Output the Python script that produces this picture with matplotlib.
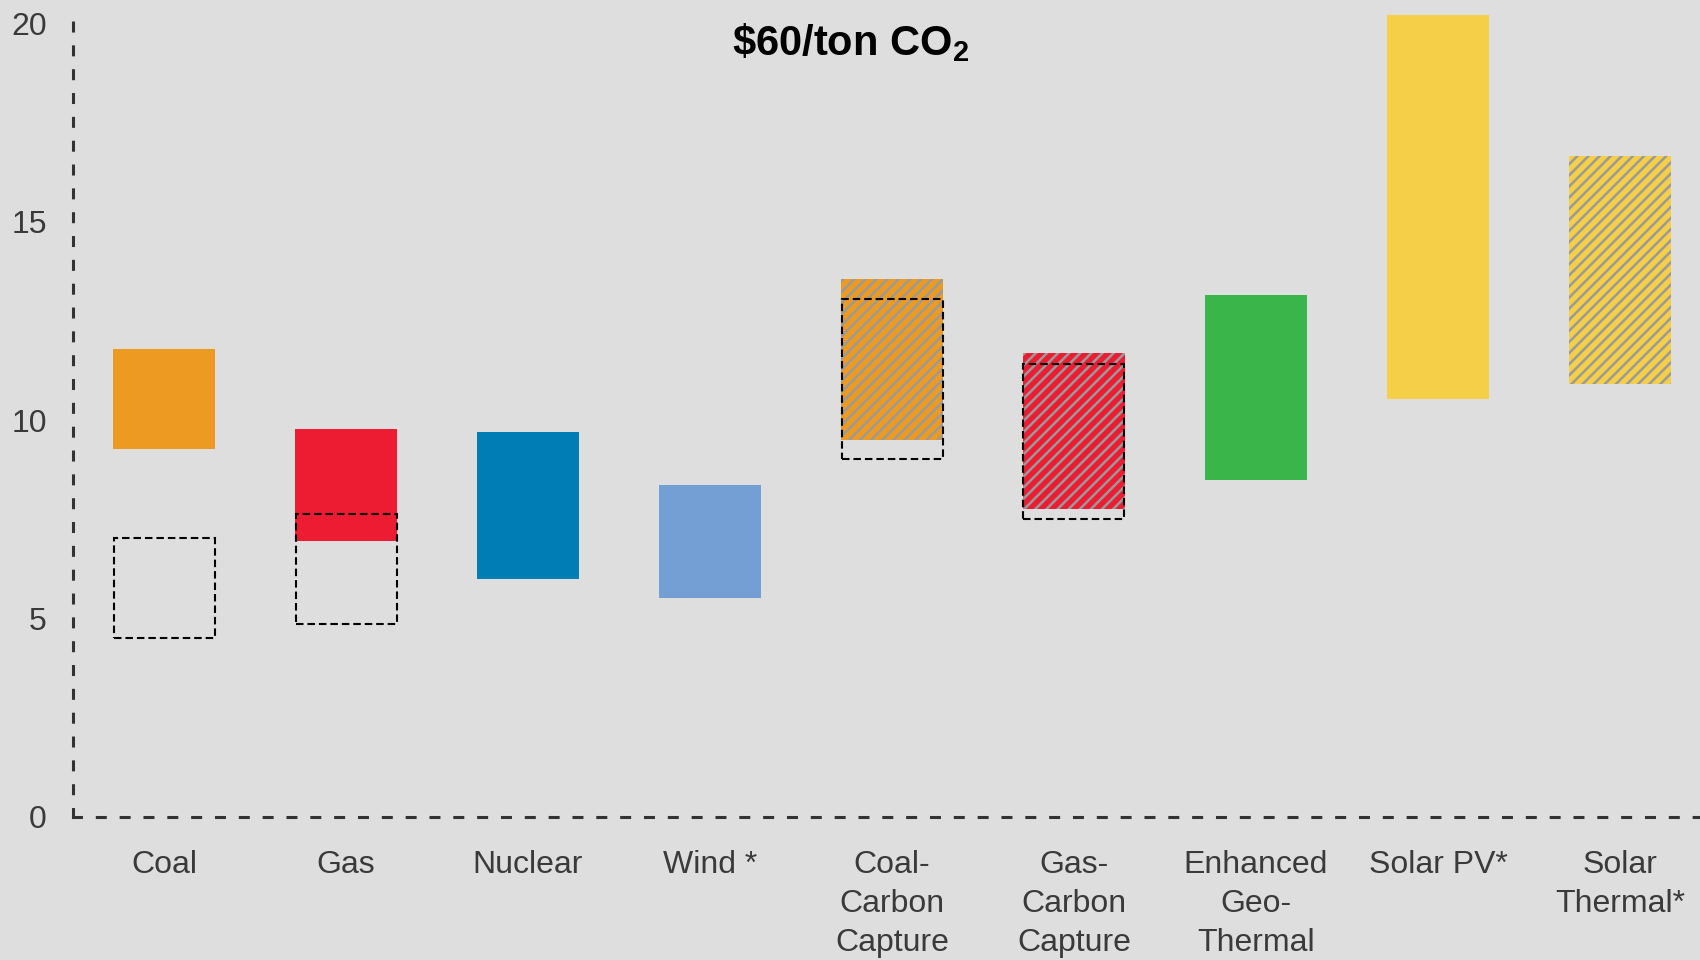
import matplotlib.pyplot as plt
import numpy as np

plt.rcParams['font.family'] = ['Liberation Sans', 'DejaVu Sans']
plt.rcParams['mathtext.fontset'] = 'custom'
plt.rcParams['mathtext.rm'] = 'Liberation Sans'
plt.rcParams['mathtext.bf'] = 'Liberation Sans:bold'
plt.rcParams['hatch.linewidth'] = 1.8
plt.rcParams['hatch.color'] = '#9a9a9a'

categories = ['Coal', 'Gas', 'Nuclear', 'Wind *', 'Coal-\nCarbon\nCapture',
              'Gas-\nCarbon\nCapture', 'Enhanced\nGeo-\nThermal', 'Solar PV*',
              'Solar\nThermal*']
# cost range at $60/ton CO2 (low, high)
low = [9.26, 6.96, 6.0, 5.51, 9.51, 7.75, 8.49, 10.52, 10.9]
high = [11.8, 9.78, 9.70, 8.36, 13.56, 11.7, 13.15, 20.2, 16.66]
colors = ['#ec9a22', '#ed1c33', '#007db5', '#739fd4', '#ec9a22',
          '#ed1c33', '#3ab54a', '#f4cf47', '#f4cf47']
hatched = [False, False, False, False, True, True, False, False, True]

# dashed boxes: range without carbon price
dash_idx = [0, 1, 4, 5]
dash_low = [4.52, 4.85, 9.01, 7.5]
dash_high = [7.04, 7.64, 13.04, 11.42]

bg = '#dedede'
fig = plt.figure(figsize=(17, 9.6), dpi=100, facecolor=bg)
ax = fig.add_axes([0.043, 0.149, 0.957, 0.831])
ax.set_facecolor(bg)

x = np.arange(len(categories))
w = 0.565
for i in range(len(categories)):
    ax.bar(x[i], high[i] - low[i], bottom=low[i], width=w, color=colors[i],
           hatch='///' if hatched[i] else None, linewidth=0, clip_on=False, zorder=2)

for j, i in enumerate(dash_idx):
    ax.bar(x[i], dash_high[j] - dash_low[j], bottom=dash_low[j], width=w - 0.01,
           fill=False, edgecolor='black', linewidth=1.5,
           linestyle=(0, (3.6, 1.9)), zorder=3)

ax.set_xlim(-0.5, 8.44)
ax.set_ylim(0, 20.1)
ax.set_yticks([0, 5, 10, 15, 20])
ax.set_xticks(x)
ax.set_xticklabels(categories, linespacing=1.38)
ax.tick_params(axis='both', length=0, labelsize=23, colors='#3a3a3a')
ax.tick_params(axis='x', pad=24)
ax.tick_params(axis='y', pad=19)

for s in ['top', 'right']:
    ax.spines[s].set_visible(False)
for s in ['left', 'bottom']:
    ax.spines[s].set_linewidth(2.2)
    ax.spines[s].set_color('#333333')
    ax.spines[s].set_linestyle((0, (2.6, 5.2)))

ax.text(0.478, 0.955, '\\$60/ton CO$_\\mathbf{2}$', transform=ax.transAxes,
        ha='center', va='baseline', fontsize=30, fontweight='bold', color='black')

fig.savefig('out.png', dpi=100, facecolor=bg)
